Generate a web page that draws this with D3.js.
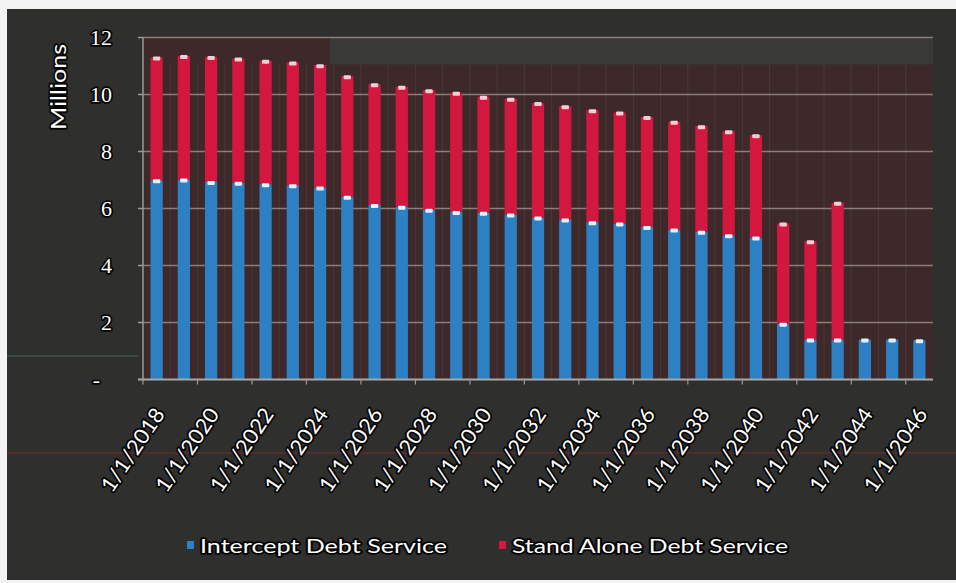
<!DOCTYPE html>
<html>
<head>
<meta charset="utf-8">
<script src="https://cdn.jsdelivr.net/npm/d3@7/dist/d3.min.js"></script>
<style>
  html, body { margin: 0; padding: 0; background: #f3f3f3; }
  svg { display: block; }
</style>
</head>
<body>
<svg id="chart" width="956" height="583"></svg>
<script>
// Debt service schedule, in millions, one payment per year (1 January)
const years = [2018, 2019, 2020, 2021, 2022, 2023, 2024, 2025, 2026, 2027,
               2028, 2029, 2030, 2031, 2032, 2033, 2034, 2035, 2036, 2037,
               2038, 2039, 2040, 2041, 2042, 2043, 2044, 2045, 2046];
const interceptDebtService = [6.99, 7.02, 6.93, 6.90, 6.85, 6.82, 6.74, 6.41, 6.12, 6.06,
                              5.96, 5.88, 5.85, 5.79, 5.68, 5.61, 5.52, 5.47, 5.35, 5.26,
                              5.18, 5.06, 4.98, 1.96, 1.40, 1.40, 1.40, 1.40, 1.38];
const standAloneDebtService = [4.31, 4.33, 4.39, 4.36, 4.33, 4.30, 4.29, 4.23, 4.24, 4.21,
                               4.19, 4.18, 4.07, 4.06, 4.02, 3.98, 3.93, 3.90, 3.86, 3.78,
                               3.71, 3.65, 3.59, 3.51, 3.45, 4.80, 0, 0, 0];
const seriesNames = ["Intercept Debt Service", "Stand Alone Debt Service"];
const seriesColors = ["#2c80c3", "#d3173f"];
const capColors = ["#e6f0f8", "#f6cdd6"];
const yTicks = [0, 2, 4, 6, 8, 10, 12];
const yTickLabels = ["-", "2", "4", "6", "8", "10", "12"];
const yTitle = "Millions";

const svg = d3.select("#chart");
const W = 956, H = 583;
const plot = { left: 143, right: 933, top: 37.5, bottom: 379.5 };

// page and chart frame
svg.append("rect").attr("width", W).attr("height", H).attr("fill", "#f3f3f3");
svg.append("rect").attr("x", 7).attr("y", 9).attr("width", W - 7).attr("height", 571)
  .attr("fill", "#2f2f2d");

// faint streaks across the frame
svg.append("line").attr("x1", 7).attr("x2", W).attr("y1", 453).attr("y2", 453)
  .attr("stroke", "#6b2e30").attr("stroke-width", 1.5).attr("opacity", 0.8);
svg.append("line").attr("x1", 7).attr("x2", plot.left - 4).attr("y1", 356).attr("y2", 356)
  .attr("stroke", "#3d5a4a").attr("stroke-width", 1.5).attr("opacity", 0.8);

// plot area
svg.append("rect")
  .attr("x", plot.left).attr("y", plot.top)
  .attr("width", plot.right - plot.left).attr("height", plot.bottom - plot.top)
  .attr("fill", "#3d2929");
svg.append("rect")
  .attr("x", 330).attr("y", plot.top)
  .attr("width", plot.right - 330).attr("height", 27)
  .attr("fill", "#393a37");

const rows = years.map((yr, i) => ({
  label: "1/1/" + yr,
  intercept: interceptDebtService[i],
  standAlone: standAloneDebtService[i]
}));

const x = d3.scaleBand()
  .domain(rows.map(d => d.label))
  .range([plot.left, plot.right])
  .paddingInner(0.55)
  .paddingOuter(0.275);

const y = d3.scaleLinear().domain([0, 12]).range([plot.bottom, plot.top]);

// vertical category separators
const step = x.step();
svg.append("g").selectAll("line")
  .data(d3.range(1, years.length))
  .join("line")
  .attr("x1", i => plot.left + i * step).attr("x2", i => plot.left + i * step)
  .attr("y1", 64).attr("y2", plot.bottom)
  .attr("stroke", "#4b3838").attr("stroke-width", 1);

// horizontal gridlines
svg.append("g").selectAll("line")
  .data(yTicks.filter(v => v > 0))
  .join("line")
  .attr("x1", plot.left).attr("x2", plot.right)
  .attr("y1", d => y(d)).attr("y2", d => y(d))
  .attr("stroke", "#8c7c7a").attr("stroke-width", 1.6);

// stacked bars
const keys = ["intercept", "standAlone"];
const stacked = d3.stack().keys(keys)(rows);

const layers = svg.append("g").selectAll("g")
  .data(stacked)
  .join("g")
  .attr("fill", (d, i) => seriesColors[i]);

layers.selectAll("rect")
  .data(d => d.filter(s => s[1] - s[0] > 0))
  .join("rect")
  .attr("x", s => x(s.data.label))
  .attr("y", s => y(s[1]))
  .attr("width", x.bandwidth())
  .attr("height", s => y(s[0]) - y(s[1]));

// light caps on top of each segment
svg.append("g").selectAll("g")
  .data(stacked)
  .join("g")
  .attr("fill", (d, i) => capColors[i])
  .selectAll("rect")
  .data(d => d.filter(s => s[1] - s[0] > 0))
  .join("rect")
  .attr("x", s => x(s.data.label) + x.bandwidth() * 0.2)
  .attr("y", s => y(s[1]) - 1)
  .attr("width", x.bandwidth() * 0.6)
  .attr("height", 4)
  .attr("rx", 1);

// axes lines
svg.append("line")
  .attr("x1", plot.left).attr("x2", plot.left)
  .attr("y1", plot.top).attr("y2", plot.bottom)
  .attr("stroke", "#9a9a98").attr("stroke-width", 1.5);
svg.append("line")
  .attr("x1", plot.left - 5).attr("x2", plot.right)
  .attr("y1", plot.bottom).attr("y2", plot.bottom)
  .attr("stroke", "#a8a8a6").attr("stroke-width", 1.8);

// y tick marks
svg.append("g").selectAll("line")
  .data(yTicks)
  .join("line")
  .attr("x1", plot.left - 5).attr("x2", plot.left)
  .attr("y1", d => y(d)).attr("y2", d => y(d))
  .attr("stroke", "#9a9a98").attr("stroke-width", 1.5);

// x tick marks every two years
svg.append("g").selectAll("line")
  .data(d3.range(0, years.length + 1, 2))
  .join("line")
  .attr("x1", i => plot.left + i * step).attr("x2", i => plot.left + i * step)
  .attr("y1", plot.bottom).attr("y2", plot.bottom + 5)
  .attr("stroke", "#9a9a98").attr("stroke-width", 1.2);

function haloText(sel) {
  return sel.attr("fill", "#ffffff")
    .attr("stroke", "#050505").attr("stroke-width", 3.5)
    .attr("stroke-linejoin", "round")
    .attr("paint-order", "stroke");
}

// y tick labels
haloText(svg.append("g").selectAll("text")
  .data(yTicks)
  .join("text")
  .attr("x", d => d === 0 ? 100 : 112)
  .attr("y", d => y(d))
  .attr("text-anchor", "end")
  .attr("dominant-baseline", "central")
  .attr("font-family", "Liberation Serif, serif")
  .attr("font-size", 22)
  .text((d, i) => yTickLabels[i]));

// y title
haloText(svg.append("text")
  .attr("transform", "translate(57,87) rotate(-90)")
  .attr("text-anchor", "middle")
  .attr("dominant-baseline", "central")
  .attr("font-family", "Lato, sans-serif")
  .attr("font-size", 22)
  .attr("textLength", 86)
  .attr("lengthAdjust", "spacingAndGlyphs")
  .text(yTitle));

// x labels, every other year
haloText(svg.append("g").selectAll("text")
  .data(rows.filter((d, i) => i % 2 === 0))
  .join("text")
  .attr("transform", d => `translate(${x(d.label) + x.bandwidth() / 2 + 2},${plot.bottom + 30}) rotate(-56)`)
  .attr("text-anchor", "end")
  .attr("dominant-baseline", "central")
  .attr("font-family", "Lato, sans-serif")
  .attr("font-size", 21)
  .attr("textLength", 96)
  .attr("lengthAdjust", "spacingAndGlyphs")
  .text(d => d.label));

// legend
const legendItems = [
  { name: seriesNames[0], color: seriesColors[0], sx: 187, tx: 200, len: 247 },
  { name: seriesNames[1], color: seriesColors[1], sx: 499, tx: 512, len: 276 }
];
const lg = svg.append("g");
lg.selectAll("rect")
  .data(legendItems)
  .join("rect")
  .attr("x", d => d.sx).attr("y", 541)
  .attr("width", 7).attr("height", 8)
  .attr("fill", d => d.color);
haloText(lg.selectAll("text")
  .data(legendItems)
  .join("text")
  .attr("x", d => d.tx).attr("y", 545)
  .attr("dominant-baseline", "central")
  .attr("font-family", "Lato, sans-serif")
  .attr("font-size", 20)
  .attr("textLength", d => d.len)
  .attr("lengthAdjust", "spacingAndGlyphs")
  .text(d => d.name));
</script>
</body>
</html>
